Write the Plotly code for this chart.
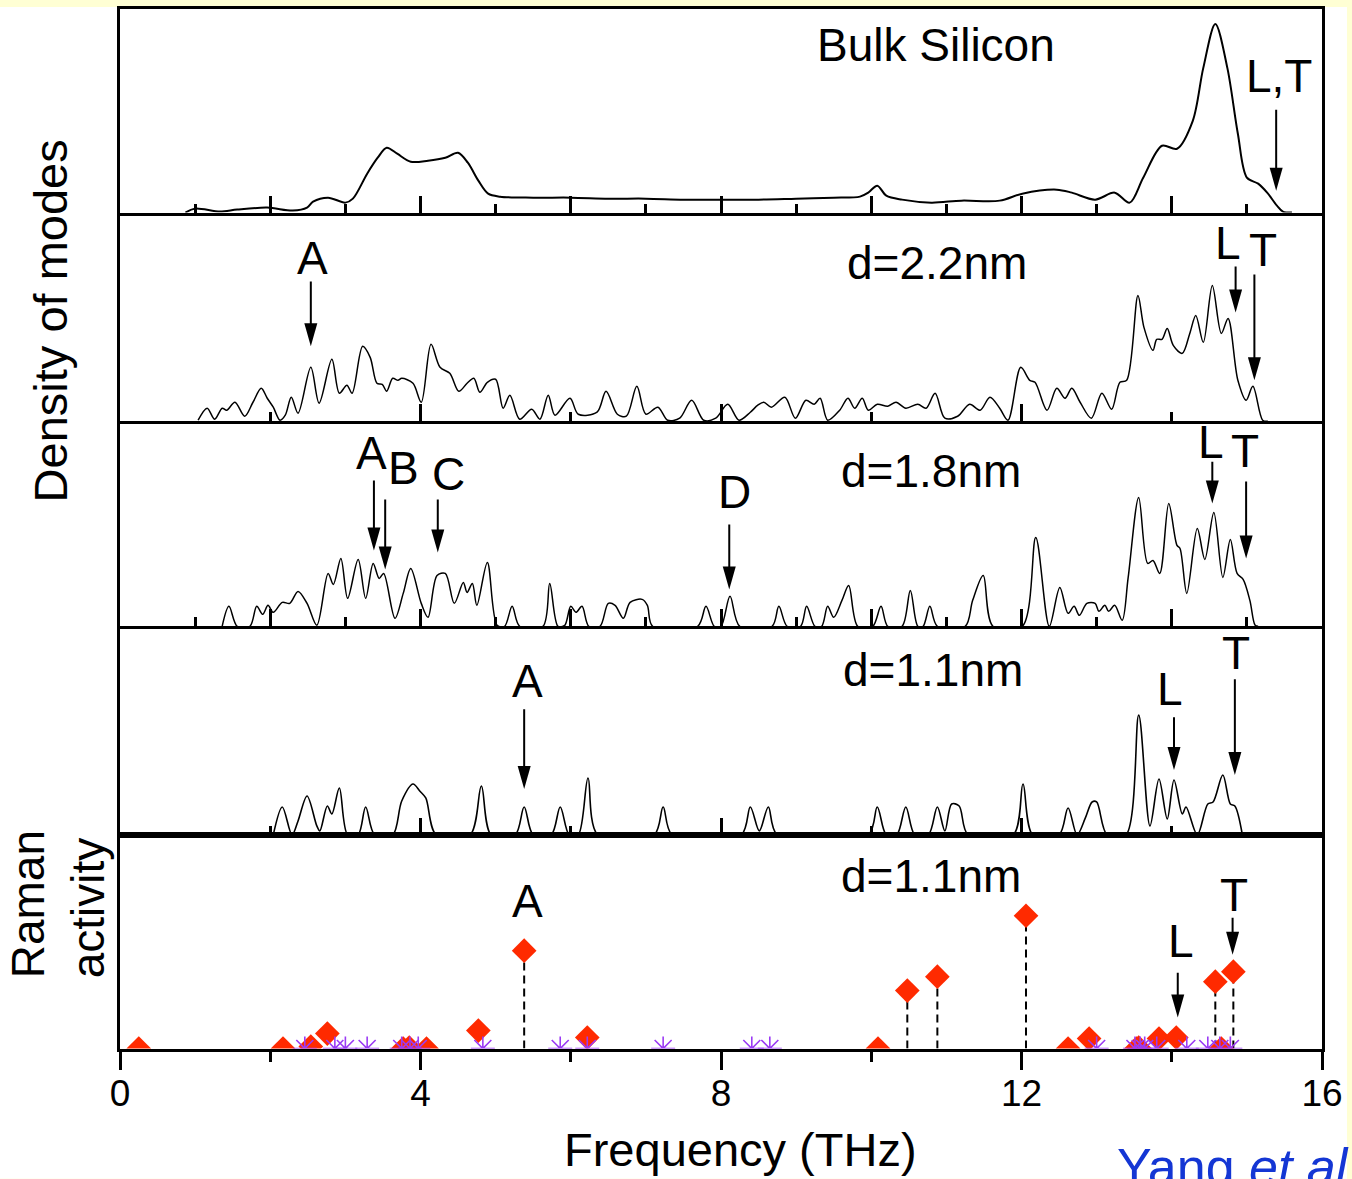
import plotly.graph_objects as go

# ---------------- data ----------------
# Bulk silicon density of modes (frequency in THz, DOS in arbitrary units)
bulk_f = [0.87, 1.00, 1.33, 1.56, 1.96, 2.30, 2.49, 2.57, 2.77, 3.00, 3.10, 3.29, 3.43, 3.55, 3.69,
          3.87, 4.10, 4.33, 4.50, 4.63, 4.77, 4.90, 5.06, 5.50, 6.00, 6.50, 7.00, 7.50, 8.00, 8.50,
          9.00, 9.50, 9.85, 9.96, 10.08, 10.20, 10.41, 10.80, 11.20, 11.71, 12.01, 12.47, 12.67,
          12.98, 13.24, 13.44, 13.62, 13.87, 14.07, 14.28, 14.42, 14.58, 14.74, 14.88, 15.00, 15.15,
          15.27, 15.40, 15.48, 15.60]
bulk_dos = [0, 4, 1, 3, 5, 2, 5, 11, 15, 10, 14, 39, 55, 65, 59,
            51, 52, 55, 60, 50, 32, 19, 16, 15, 15, 14, 14, 13, 13, 13,
            14, 15, 16, 20, 27, 17, 13, 10, 12, 12, 19, 23, 20,
            13, 20, 10, 35, 67, 64, 92, 145, 189, 145, 79, 35, 29,
            20, 7, 1, 0]

# d = 2.2 nm nanocrystal
d22_f = [1.04, 1.16, 1.26, 1.36, 1.42, 1.53, 1.66, 1.77, 1.88, 1.96,
         2.04, 2.13, 2.20, 2.28, 2.37, 2.54, 2.65, 2.82, 2.92, 3.02,
         3.09, 3.23, 3.33, 3.42, 3.49, 3.55, 3.63, 3.70, 3.75, 3.90,
         4.01, 4.14, 4.26, 4.39, 4.51, 4.62, 4.71, 4.79, 4.89, 5.00,
         5.10, 5.19, 5.32, 5.48, 5.59, 5.70, 5.79, 5.99, 6.10, 6.35,
         6.47, 6.62, 6.74, 6.88, 7.00, 7.16, 7.29, 7.45, 7.61, 7.77,
         7.93, 8.09, 8.24, 8.39, 8.49, 8.57, 8.67, 8.85, 8.99, 9.13,
         9.24, 9.32, 9.42, 9.58, 9.69, 9.78, 9.88, 9.96, 10.08, 10.22,
         10.33, 10.46, 10.62, 10.73, 10.85, 10.98, 11.15, 11.31, 11.45, 11.58,
         11.71, 11.82, 11.99, 12.11, 12.18, 12.34, 12.47, 12.58, 12.67, 12.78,
         12.93, 13.07, 13.20, 13.31, 13.40, 13.55, 13.63, 13.75, 13.80, 13.87,
         13.94, 14.02, 14.14, 14.24, 14.32, 14.42, 14.54, 14.66, 14.75, 14.88,
         14.99, 15.08, 15.21, 15.28]
d22_dos = [1, 13, 2, 13, 11, 19, 5, 19, 33, 23,
           14, 1, 6, 24, 8, 54, 18, 62, 28, 36,
           28, 75, 64, 38, 37, 30, 43, 41, 43, 38,
           19, 77, 54, 48, 30, 38, 43, 29, 39, 42,
           13, 26, 2, 12, 2, 26, 6, 23, 7, 9,
           30, 7, 5, 35, 7, 14, 1, 3, 21, 1,
           3, 17, 1, 9, 16, 19, 14, 24, 3, 21,
           17, 23, 1, 11, 23, 13, 23, 11, 17, 15,
           19, 13, 17, 13, 28, 3, 5, 17, 11, 24,
           13, 1, 54, 41, 39, 11, 33, 23, 33, 19,
           3, 28, 12, 39, 41, 126, 94, 71, 82, 82,
           93, 76, 68, 88, 106, 79, 136, 88, 103, 41,
           21, 35, 1, 0]

# d = 1.8 nm nanocrystal
d18_f = [1.36, 1.45, 1.56, 1.73, 1.82, 1.90, 1.97, 2.04, 2.16, 2.26,
         2.37, 2.49, 2.62, 2.77, 2.84, 2.94, 3.03, 3.17, 3.27, 3.37,
         3.45, 3.51, 3.66, 3.77, 3.87, 4.01, 4.10, 4.22, 4.33, 4.45,
         4.57, 4.62, 4.69, 4.75, 4.89, 5.02, 5.12, 5.22, 5.32, 5.63,
         5.72, 5.83, 5.92, 6.00, 6.07, 6.15, 6.24, 6.39, 6.50, 6.59,
         6.70, 6.79, 6.95, 7.02, 7.09, 7.69, 7.80, 7.91, 8.00, 8.12,
         8.25, 8.68, 8.77, 8.88, 9.06, 9.14, 9.25, 9.34, 9.42, 9.50,
         9.61, 9.70, 9.82, 10.02, 10.13, 10.22, 10.41, 10.52, 10.62, 10.69,
         10.78, 10.88, 11.25, 11.35, 11.49, 11.62, 12.01, 12.19, 12.37, 12.51,
         12.62, 12.70, 12.77, 12.87, 12.98, 13.03, 13.11, 13.16, 13.24, 13.34,
         13.42, 13.56, 13.68, 13.75, 13.84, 13.96, 14.07, 14.11, 14.20, 14.34,
         14.44, 14.56, 14.68, 14.78, 14.87, 14.95, 15.04, 15.11, 15.15]
d18_dos = [0, 20, 0, 0, 20, 12, 21, 14, 24, 23,
           35, 23, 1, 53, 42, 68, 28, 67, 28, 63,
           48, 53, 8, 33, 58, 23, 9, 51, 53, 23,
           44, 34, 43, 21, 64, 1, 0, 20, 0, 0,
           43, 0, 1, 20, 14, 20, 0, 0, 23, 21,
           8, 24, 27, 21, 0, 0, 20, 0, 0, 30,
           0, 0, 20, 0, 0, 20, 0, 0, 20, 9,
           26, 41, 0, 0, 20, 0, 0, 36, 0, 0,
           20, 0, 0, 26, 51, 0, 0, 89, 0, 39,
           13, 20, 11, 23, 23, 15, 21, 15, 21, 6,
           49, 129, 63, 66, 53, 123, 81, 78, 33, 98,
           67, 114, 49, 87, 53, 47, 26, 1, 0]

# d = 1.1 nm nanocrystal
d11_f = [2.04, 2.16, 2.29, 2.37, 2.49, 2.62, 2.66, 2.76, 2.82, 2.92,
         3.03, 3.17, 3.27, 3.39, 3.63, 3.75, 3.90, 3.99, 4.07, 4.21,
         4.66, 4.81, 4.94, 5.26, 5.38, 5.50, 5.74, 5.86, 5.98, 6.10,
         6.23, 6.36, 7.11, 7.23, 7.35, 8.27, 8.39, 8.51, 8.63, 8.75,
         9.96, 10.08, 10.20, 10.34, 10.46, 10.58, 10.76, 10.88, 10.98, 11.07,
         11.17, 11.29, 11.89, 12.02, 12.15, 12.50, 12.62, 12.74, 12.85, 12.94,
         13.00, 13.14, 13.39, 13.56, 13.71, 13.83, 13.94, 14.03, 14.14, 14.19,
         14.34, 14.48, 14.55, 14.68, 14.78, 14.84, 14.94]
d11_dos = [0, 28, 0, 14, 39, 9, 4, 29, 21, 47,
           0, 0, 28, 0, 0, 34, 51, 44, 37, 0,
           0, 49, 0, 0, 28, 0, 0, 28, 0, 0,
           57, 0, 0, 28, 0, 0, 28, 4, 28, 0,
           0, 28, 0, 0, 28, 0, 0, 28, 4, 31,
           29, 0, 0, 51, 0, 0, 27, 0, 17, 33,
           33, 0, 0, 120, 9, 56, 16, 55, 21, 28,
           0, 31, 33, 60, 31, 29, 0]

# d = 1.1 nm Raman activity of individual modes
raman_f = [0.25, 2.17, 2.54, 2.76, 3.77, 3.85, 4.08, 4.77, 5.38, 6.22,
           10.09, 10.48, 10.88, 12.06, 12.62, 12.90, 13.53, 13.56, 13.83, 14.06,
           14.58, 14.66, 14.82]
raman_act = [0, 0, 2, 15, 0, 1, 0, 18, 98, 11,
             0, 58, 72, 133, 0, 10, 0, 1, 10, 11,
             67, 0, 77]
# Raman-inactive modes
inactive_f = [2.46, 2.86, 3.00, 3.29, 3.75, 3.86, 3.97, 4.83, 5.86, 6.22, 7.23,
              8.41, 8.65, 13.00, 13.51, 13.58, 13.64, 13.80, 14.20, 14.48, 14.64, 14.78]

x_ticks = [0, 4, 8, 12, 16]

# ---------------- layout geometry ----------------
W, H = 1352, 1179
ML, MR, MT, MB = 120, 30, 6, 129
PH = H - MT - MB
edges = [7.5, 211, 420, 625.5, 834.5, 1048.5]   # panel borders (px from top)
FONT = "Liberation Sans, Arial, Helvetica, sans-serif"
RED = "#FF2A00"
PURPLE = "#9B3BF5"


def ref(i, kind):
    return kind if i == 1 else f"{kind}{i}"


def paper_y(px):
    return (H - MB - px) / PH


fig = go.Figure()

dos_sets = [(bulk_f, bulk_dos, 2.0), (d22_f, d22_dos, 1.5),
            (d18_f, d18_dos, 1.5), (d11_f, d11_dos, 1.6)]
for i, (f, d, w) in enumerate(dos_sets, start=1):
    fig.add_trace(go.Scatter(
        x=f, y=d, mode="lines",
        line=dict(color="black", width=w, shape="spline", smoothing=0.9),
        xaxis=ref(i, "x"), yaxis=ref(i, "y"),
        showlegend=False, hoverinfo="skip"))

# dashed stems under the strong Raman lines
stem_x, stem_y = [], []
for f, a in zip(raman_f, raman_act):
    if a > 30:
        stem_x += [f, f, None]
        stem_y += [0, a, None]
fig.add_trace(go.Scatter(
    x=stem_x, y=stem_y, mode="lines",
    line=dict(color="black", width=2, dash="8px,5px"),
    xaxis="x5", yaxis="y5", showlegend=False, hoverinfo="skip"))

fig.add_trace(go.Scatter(
    x=raman_f, y=raman_act, mode="markers",
    marker=dict(symbol="diamond", size=19, color=RED, line=dict(width=0)),
    xaxis="x5", yaxis="y5", showlegend=False, cliponaxis=True))

fig.add_trace(go.Scatter(
    x=inactive_f, y=[0] * len(inactive_f), mode="markers",
    marker=dict(symbol="asterisk-open", size=20, color=PURPLE,
                line=dict(color=PURPLE, width=1.6)),
    xaxis="x5", yaxis="y5", showlegend=False, cliponaxis=True))

# ---------------- axes ----------------
layout_axes = {}
tick_sets = {1: (2, 1), 2: (4, 2), 3: (2, 1), 4: (4, 2)}
for i in range(1, 6):
    top, bot = edges[i - 1], edges[i]
    xa = dict(range=[0, 16], domain=[0, 1], anchor=ref(i, "y"),
              showline=True, linecolor="black", linewidth=3,
              mirror=(i in (1, 5)), showgrid=False, zeroline=False,
              tickcolor="black", tickwidth=2.5, tick0=0)
    if i < 5:
        major, minor = tick_sets[i]
        xa.update(ticks="inside", ticklen=17, dtick=major, showticklabels=False,
                  minor=dict(ticks="inside", ticklen=9, dtick=minor, tick0=0,
                             tickwidth=2.5, tickcolor="black"))
    else:
        xa.update(ticks="outside", ticklen=18, tickvals=x_ticks,
                  ticktext=[str(v) for v in x_ticks], showticklabels=True,
                  ticklabelstandoff=-8,
                  tickfont=dict(family=FONT, size=37, color="black"),
                  minor=dict(ticks="outside", ticklen=10, dtick=2, tick0=0,
                             tickwidth=2.5, tickcolor="black"))
    ya = dict(range=[0, bot - top], domain=[paper_y(bot), paper_y(top)],
              anchor=ref(i, "x"), showline=True, linecolor="black", linewidth=3,
              mirror=True, showgrid=False, zeroline=False, ticks="",
              showticklabels=False)
    layout_axes["xaxis" if i == 1 else f"xaxis{i}"] = xa
    layout_axes["yaxis" if i == 1 else f"yaxis{i}"] = ya

# ---------------- annotations & arrows ----------------
annotations = []
shapes = []


def label(i, x, y, text, size=46):
    annotations.append(dict(x=x, y=y, xref=ref(i, "x"), yref=ref(i, "y"),
                            text=text, showarrow=False, xanchor="center",
                            yanchor="middle",
                            font=dict(family=FONT, size=size, color="black")))


def arrow(i, x, tail, tip):
    shapes.append(dict(type="line", xref=ref(i, "x"), yref=ref(i, "y"),
                       x0=x, x1=x, y0=tail, y1=tip + 12,
                       line=dict(color="black", width=2)))
    shapes.append(dict(type="path", xref=ref(i, "x"), yref=ref(i, "y"),
                       xsizemode="pixel", ysizemode="pixel",
                       xanchor=x, yanchor=tip,
                       path="M-6.5,23 L6.5,23 L0,0 Z",
                       fillcolor="black", line=dict(width=0)))


# panel titles
label(1, 10.86, 168, "Bulk Silicon")
label(2, 10.88, 159, "d=2.2nm")
label(3, 10.80, 156, "d=1.8nm")
label(4, 10.82, 165, "d=1.1nm")
label(5, 10.80, 173, "d=1.1nm")

# mode markers
label(1, 15.43, 137, "L,T"); arrow(1, 15.39, 103, 22)

label(2, 2.56, 164, "A"); arrow(2, 2.54, 140, 75)
label(2, 14.75, 179, "L"); arrow(2, 14.85, 155, 109)
label(2, 15.21, 172, "T"); arrow(2, 15.10, 147, 41)

label(3, 3.35, 174, "A"); arrow(3, 3.38, 146, 76)
label(3, 3.78, 159, "B"); arrow(3, 3.53, 127, 57)
label(3, 4.37, 153, "C"); arrow(3, 4.23, 127, 74)
label(3, 8.18, 135, "D"); arrow(3, 8.11, 102, 37)
label(3, 14.52, 185, "L"); arrow(3, 14.54, 165, 123)
label(3, 14.97, 176, "T"); arrow(3, 14.99, 145, 68)

label(4, 5.42, 154, "A"); arrow(4, 5.38, 126, 46)
label(4, 13.98, 146, "L"); arrow(4, 14.03, 118, 65)
label(4, 14.85, 182, "T"); arrow(4, 14.84, 156, 60)

label(5, 5.42, 148, "A")
label(5, 14.12, 108, "L"); arrow(5, 14.08, 76, 31)
label(5, 14.83, 154, "T"); arrow(5, 14.81, 131, 94)

# axis titles
annotations.append(dict(xref="paper", yref="paper", x=(740 - ML) / (W - ML - MR),
                        y=paper_y(1150), text="Frequency (THz)", showarrow=False,
                        xanchor="center", yanchor="middle",
                        font=dict(family=FONT, size=47, color="black")))
annotations.append(dict(xref="paper", yref="paper", x=(50 - ML) / (W - ML - MR),
                        y=paper_y(320), text="Density of modes", showarrow=False,
                        textangle=-90, xanchor="center", yanchor="middle",
                        font=dict(family=FONT, size=47, color="black")))
annotations.append(dict(xref="paper", yref="paper", x=(58 - ML) / (W - ML - MR),
                        y=paper_y(904), text="Raman<br>activity", showarrow=False,
                        textangle=-90, xanchor="center", yanchor="middle",
                        align="left",
                        font=dict(family=FONT, size=46, color="black")))
annotations.append(dict(xref="paper", yref="paper", x=(1115 - ML) / (W - ML - MR),
                        y=paper_y(1136), text="Yang <i>et al</i>", showarrow=False,
                        xanchor="left", yanchor="top",
                        font=dict(family=FONT, size=52, color="#1436D4")))

# white sheet over a pale yellow page
shapes.insert(0, dict(type="rect", xref="paper", yref="paper", layer="below",
                      x0=-ML / (W - ML - MR), x1=(1347 - ML) / (W - ML - MR),
                      y0=paper_y(1179), y1=paper_y(5),
                      fillcolor="white", line=dict(width=0)))

fig.update_layout(
    width=W, height=H,
    margin=dict(l=ML, r=MR, t=MT, b=MB),
    paper_bgcolor="#FFFFD4", plot_bgcolor="rgba(0,0,0,0)",
    showlegend=False,
    annotations=annotations, shapes=shapes,
    **layout_axes)

fig.write_html("out.html")
